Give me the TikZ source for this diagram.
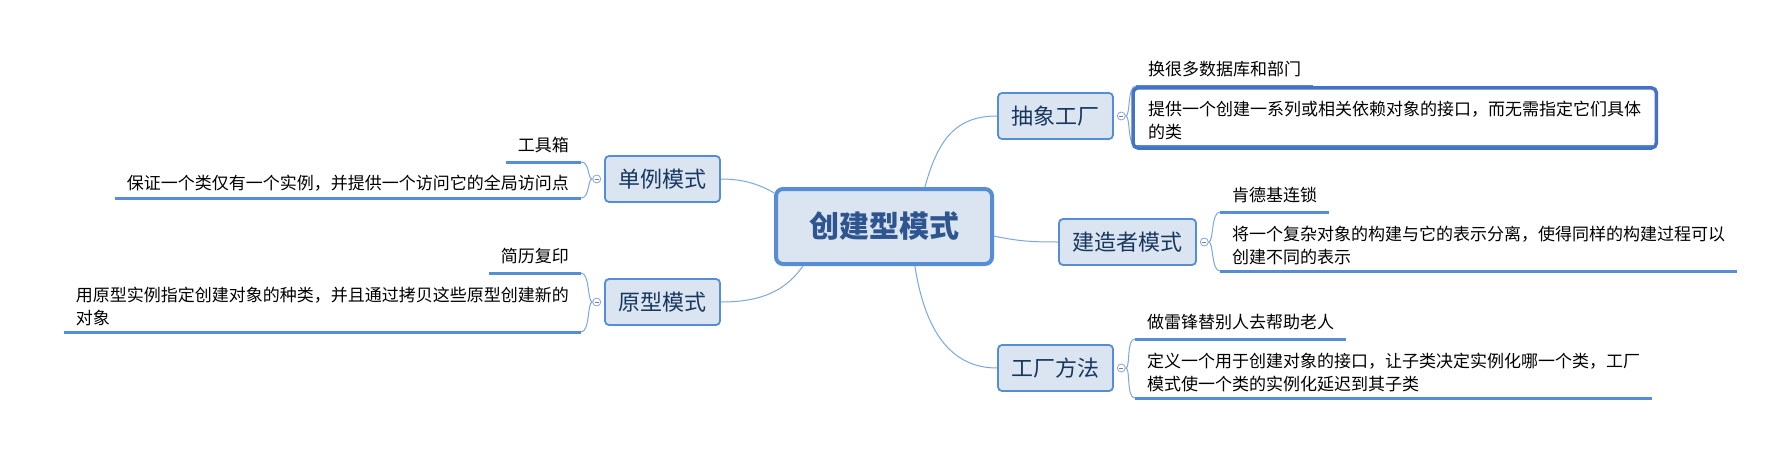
\documentclass[tikz,border=0pt]{standalone}
\usepackage{fontspec}
\setmainfont{Noto Sans CJK SC}
\usetikzlibrary{positioning}

\definecolor{topicfill}{HTML}{DBE5F1}
\definecolor{topicline}{HTML}{558ED5}
\definecolor{topictext}{HTML}{17375E}
\definecolor{roottext}{HTML}{2E5590}
\definecolor{linkline}{HTML}{7EA7DD}
\definecolor{selline}{HTML}{4472C4}

\begin{document}
\begin{tikzpicture}[
    x=1pt, y=-1pt,
    root/.style={rectangle, rounded corners=7pt, draw=topicline, line width=4pt, fill=topicfill, text=roottext, minimum width=216pt, minimum height=75pt, font=\fontsize{30}{35}\selectfont\bfseries},
    topic/.style={rectangle, rounded corners=4pt, draw=topicline, line width=1.8pt, fill=topicfill, text=topictext, minimum width=115pt, minimum height=46pt, font=\fontsize{22}{26}\selectfont},
    toggle/.style={circle, draw=linkline, fill=white, line width=0.8pt, minimum size=8pt, inner sep=0pt,
        path picture={\draw[gray, line width=0.8pt] ([xshift=2pt]path picture bounding box.west) -- ([xshift=-2pt]path picture bounding box.east);}},
    note/.style={font=\fontsize{17}{23}\selectfont, inner xsep=12pt, inner ysep=7pt, text depth=3pt},
    detail/.style={font=\fontsize{17}{23}\selectfont, inner xsep=12pt, inner ysep=6pt, align=left},
    link/.style={draw=linkline, line width=1pt},
    uline/.style={draw=topicline, line width=3pt},
    selbox/.style={draw=selline, line width=3.5pt, rounded corners=5pt}
]
    \path[use as bounding box, fill=white] (0,0) rectangle (1776,455);

    % central topic and main branches
    \node[root] (root) at (884,226.5) {创建型模式};
    \node[topic] (abs) at (1055.5,116) {抽象工厂};
    \node[topic, minimum width=137pt] (bld) at (1127.5,242) {建造者模式};
    \node[topic] (fac) at (1055.5,368) {工厂方法};
    \node[topic] (sgl) at (662.5,179) {单例模式};
    \node[topic] (pro) at (662.5,302) {原型模式};

    \draw[link] (root.44.6) .. controls +(13,-47) and +(-42,0) .. (abs.west);
    \draw[link] (root.-5) .. controls +(25,5) and +(-28,0) .. (bld.west);
    \draw[link] (root.-52) .. controls +(10,64) and +(-47,0) .. (fac.west);
    \draw[link] (root.163) .. controls +(-17,-10) and +(19,0) .. (sgl.east);
    \draw[link] (root.206) .. controls +(-17,24) and +(42,0) .. (pro.east);

    % collapse markers
    \node[toggle, right=3pt of abs] (absT) {};
    \node[toggle, right=3pt of bld] (bldT) {};
    \node[toggle, right=3pt of fac] (facT) {};
    \node[toggle, left=3pt of sgl] (sglT) {};
    \node[toggle, left=3pt of pro] (proT) {};

    % right side details
    \node[note, anchor=south west] (absLbl) at (1136,86) {换很多数据库和部门};
    \node[detail, anchor=south west] (absBody) at (1136,146) {提供一个创建一系列或相关依赖对象的接口，而无需指定它们具体\\的类};
    \node[note, anchor=south west] (bldLbl) at (1220,212) {肯德基连锁};
    \node[detail, anchor=south west] (bldBody) at (1220,271) {将一个复杂对象的构建与它的表示分离，使得同样的构建过程可以\\创建不同的表示};
    \node[note, anchor=south west] (facLbl) at (1135,339) {做雷锋替别人去帮助老人};
    \node[detail, anchor=south west] (facBody) at (1135,398) {定义一个用于创建对象的接口，让子类决定实例化哪一个类，工厂\\模式使一个类的实例化延迟到其子类};

    % left side details
    \node[note, anchor=south east] (sglLbl) at (581,162) {工具箱};
    \node[detail, anchor=south east] (sglBody) at (581,198) {保证一个类仅有一个实例，并提供一个访问它的全局访问点};
    \node[note, anchor=south east] (proLbl) at (581,273) {简历复印};
    \node[detail, anchor=south east] (proBody) at (581,332) {用原型实例指定创建对象的种类，并且通过拷贝这些原型创建新的\\对象};

    \foreach \n in {absLbl,absBody,bldLbl,bldBody,facLbl,facBody,sglLbl,sglBody,proLbl,proBody}
        \draw[uline] (\n.south west) -- (\n.south east);

    \foreach \t/\a/\b in {absT/absLbl/absBody, bldT/bldLbl/bldBody, facT/facLbl/facBody} {
        \draw[link] (\t.east) .. controls +(5,0) and +(-9,0) .. (\a.south west);
        \draw[link] (\t.east) .. controls +(5,0) and +(-9,0) .. (\b.south west);
    }
    \foreach \t/\a/\b in {sglT/sglLbl/sglBody, proT/proLbl/proBody} {
        \draw[link] (\t.west) .. controls +(-5,0) and +(9,0) .. (\a.south east);
        \draw[link] (\t.west) .. controls +(-5,0) and +(9,0) .. (\b.south east);
    }

    % selected topic
    \draw[selbox, fill=none] ([shift={(-3,-7)}]absBody.north west) rectangle ([shift={(3,2)}]absBody.south east);
\end{tikzpicture}
\end{document}
